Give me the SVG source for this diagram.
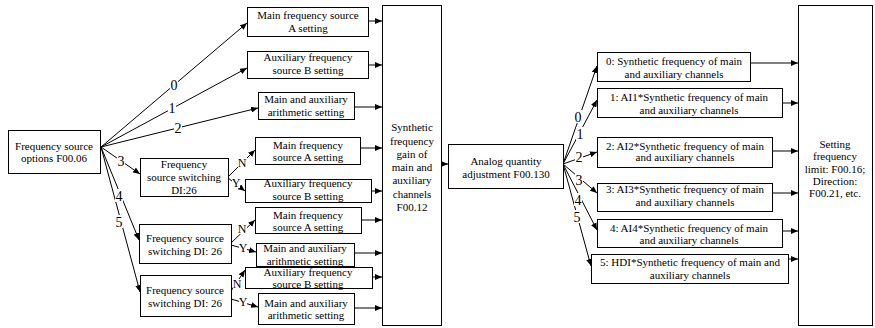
<svg xmlns="http://www.w3.org/2000/svg" width="875" height="328" viewBox="0 0 875 328">
<style>
.box{fill:#fff;stroke:#000;stroke-width:1}
text{font-family:"Liberation Serif","Times New Roman",serif;font-size:11px;fill:#000;text-anchor:middle}
.c line{stroke:#000;stroke-width:1;fill:none;marker-end:url(#ah)}
.bg{fill:#fff;stroke:none}
.lbl{font-size:14px}
.ny{font-size:12px}
</style>
<defs>
<marker id="ah" markerUnits="userSpaceOnUse" markerWidth="8" markerHeight="6" refX="7" refY="3" orient="auto">
<path d="M0,0 L7,3 L0,6 z" fill="#000"/>
</marker>
</defs>
<rect width="875" height="328" fill="#fff"/>

<g class="c" id="connectors">
<line x1="101" y1="147" x2="247" y2="23"/>
<line x1="101" y1="147" x2="247" y2="68"/>
<line x1="101" y1="147" x2="258" y2="108"/>
<line x1="101" y1="147" x2="140" y2="174"/>
<line x1="101" y1="147" x2="139" y2="240"/>
<line x1="101" y1="147" x2="140" y2="292"/>
<line x1="228" y1="177" x2="255" y2="150"/>
<line x1="228" y1="178" x2="245" y2="191"/>
<line x1="231" y1="243" x2="255" y2="220"/>
<line x1="231" y1="245" x2="256" y2="252"/>
<line x1="231" y1="291" x2="245" y2="270"/>
<line x1="231" y1="299" x2="258" y2="307"/>
<line x1="368" y1="21" x2="382" y2="21"/>
<line x1="368" y1="65" x2="382" y2="65"/>
<line x1="354" y1="107" x2="382" y2="107"/>
<line x1="360" y1="148" x2="382" y2="148"/>
<line x1="371" y1="191" x2="382" y2="191"/>
<line x1="361" y1="220" x2="382" y2="220"/>
<line x1="354" y1="253" x2="382" y2="253"/>
<line x1="372" y1="277" x2="382" y2="277"/>
<line x1="354" y1="308" x2="382" y2="308"/>
<line x1="441" y1="164" x2="448" y2="164"/>
<line x1="563" y1="164" x2="597" y2="66"/>
<line x1="563" y1="164" x2="597" y2="100"/>
<line x1="563" y1="164" x2="597" y2="152"/>
<line x1="563" y1="164" x2="597" y2="193"/>
<line x1="563" y1="164" x2="597" y2="230"/>
<line x1="563" y1="164" x2="591" y2="266"/>
<line x1="750" y1="63" x2="798" y2="63"/>
<line x1="782" y1="103" x2="798" y2="103"/>
<line x1="772" y1="151" x2="798" y2="151"/>
<line x1="772" y1="193" x2="798" y2="193"/>
<line x1="782" y1="231" x2="798" y2="231"/>
<line x1="788" y1="259" x2="798" y2="259"/>
<rect class="bg" x="170" y="78" width="8" height="13"/><text class="lbl" x="174" y="90">0</text>
<rect class="bg" x="168" y="101" width="8" height="13"/><text class="lbl" x="172" y="113">1</text>
<rect class="bg" x="174" y="121" width="8" height="13"/><text class="lbl" x="178" y="133">2</text>
<rect class="bg" x="117" y="154" width="8" height="13"/><text class="lbl" x="121" y="166">3</text>
<rect class="bg" x="115" y="189" width="8" height="13"/><text class="lbl" x="119" y="201">4</text>
<rect class="bg" x="115" y="215" width="8" height="13"/><text class="lbl" x="119" y="227">5</text>
<rect class="bg" x="238" y="158" width="9" height="10"/><text class="ny" x="242" y="167">N</text>
<rect class="bg" x="232" y="178" width="8" height="10"/><text class="ny" x="236" y="187">Y</text>
<rect class="bg" x="238" y="224" width="9" height="10"/><text class="ny" x="242" y="233">N</text>
<rect class="bg" x="239" y="243" width="8" height="10"/><text class="ny" x="243" y="252">Y</text>
<rect class="bg" x="233" y="279" width="9" height="10"/><text class="ny" x="237" y="288">N</text>
<rect class="bg" x="239" y="297" width="8" height="10"/><text class="ny" x="243" y="306">Y</text>
<rect class="bg" x="574" y="110" width="8" height="13"/><text class="lbl" x="578" y="122">0</text>
<rect class="bg" x="576" y="127" width="8" height="13"/><text class="lbl" x="580" y="139">1</text>
<rect class="bg" x="575" y="150" width="8" height="13"/><text class="lbl" x="579" y="162">2</text>
<rect class="bg" x="575" y="173" width="8" height="13"/><text class="lbl" x="579" y="185">3</text>
<rect class="bg" x="574" y="193" width="8" height="13"/><text class="lbl" x="578" y="205">4</text>
<rect class="bg" x="573" y="210" width="8" height="13"/><text class="lbl" x="577" y="222">5</text>
</g>

<g id="n-options"><rect class="box" x="8.5" y="130.5" width="92" height="43"/><text x="54" y="150">Frequency source</text><text x="54" y="162">options F00.06</text></g>

<g id="n-a1"><rect class="box" x="247.5" y="7.5" width="121" height="29"/><text x="308" y="19">Main frequency source</text><text x="308" y="32">A setting</text></g>
<g id="n-b1"><rect class="box" x="247.5" y="51.5" width="121" height="27"/><text x="308" y="61">Auxiliary frequency</text><text x="308" y="74">source B setting</text></g>
<g id="n-c1"><rect class="box" x="258.5" y="92.5" width="96" height="27"/><text x="306" y="103">Main and auxiliary</text><text x="306" y="116">arithmetic setting</text></g>

<g id="n-sw3"><rect class="box" x="140.5" y="158.5" width="88" height="38"/><text x="184" y="168">Frequency</text><text x="184" y="181">source switching</text><text x="184" y="194">DI:26</text></g>
<g id="n-a3"><rect class="box" x="255.5" y="137.5" width="105" height="27"/><text x="308" y="149">Main frequency</text><text x="308" y="161">source A setting</text></g>
<g id="n-b3"><rect class="box" x="245.5" y="179.5" width="126" height="23"/><text x="308" y="187">Auxiliary frequency</text><text x="308" y="200">source B setting</text></g>

<g id="n-sw4"><rect class="box" x="139.5" y="224.5" width="92" height="39"/><text x="185" y="242">Frequency source</text><text x="185" y="255">switching DI: 26</text></g>
<g id="n-a4"><rect class="box" x="255.5" y="207.5" width="106" height="26"/><text x="308" y="219">Main frequency</text><text x="308" y="231">source A setting</text></g>
<g id="n-c4"><rect class="box" x="256.5" y="243.5" width="98" height="23"/><text x="305" y="252">Main and auxiliary</text><text x="305" y="264.5">arithmetic setting</text></g>

<g id="n-sw5"><rect class="box" x="140.5" y="275.5" width="91" height="41"/><text x="185" y="294">Frequency source</text><text x="185" y="307">switching DI: 26</text></g>
<g id="n-b5"><rect class="box" x="245.5" y="267.5" width="127" height="21"/><text x="308" y="276">Auxiliary frequency</text><text x="308" y="288">source B setting</text></g>
<g id="n-c5"><rect class="box" x="258.5" y="293.5" width="96" height="31"/><text x="306" y="307">Main and auxiliary</text><text x="306" y="319">arithmetic setting</text></g>

<g id="n-synth"><rect class="box" x="382.5" y="5.5" width="59" height="320"/>
<text x="412" y="131">Synthetic</text><text x="412" y="144.5">frequency</text><text x="412" y="158">gain of</text><text x="412" y="171">main and</text><text x="412" y="184">auxiliary</text><text x="412" y="197.5">channels</text><text x="412" y="210.5">F00.12</text></g>

<g id="n-analog"><rect class="box" x="448.5" y="144.5" width="115" height="44"/><text x="506" y="165">Analog quantity</text><text x="506" y="178">adjustment F00.130</text></g>

<g id="n-r0"><rect class="box" x="597.5" y="52.5" width="153" height="29"/><text x="674" y="65">0: Synthetic frequency of main</text><text x="674" y="78">and auxiliary channels</text></g>
<g id="n-r1"><rect class="box" x="597.5" y="88.5" width="185" height="29"/><text x="689" y="101">1: AI1*Synthetic frequency of main</text><text x="689" y="114">and auxiliary channels</text></g>
<g id="n-r2"><rect class="box" x="597.5" y="137.5" width="175" height="30"/><text x="685" y="150">2: AI2*Synthetic frequency of main</text><text x="685" y="161">and auxiliary channels</text></g>
<g id="n-r3"><rect class="box" x="597.5" y="183.5" width="175" height="28"/><text x="685" y="193">3: AI3*Synthetic frequency of main</text><text x="685" y="206">and auxiliary channels</text></g>
<g id="n-r4"><rect class="box" x="597.5" y="219.5" width="185" height="28"/><text x="689" y="232">4: AI4*Synthetic frequency of main</text><text x="689" y="244">and auxiliary channels</text></g>
<g id="n-r5"><rect class="box" x="591.5" y="254.5" width="197" height="29"/><text x="690" y="266">5: HDI*Synthetic frequency of main and</text><text x="690" y="279">auxiliary channels</text></g>

<g id="n-limit"><rect class="box" x="798.5" y="5.5" width="74" height="320"/>
<text x="835" y="148">Setting</text><text x="835" y="160">frequency</text><text x="835" y="173">limit: F00.16;</text><text x="835" y="185">Direction:</text><text x="835" y="197">F00.21, etc.</text></g>
</svg>
